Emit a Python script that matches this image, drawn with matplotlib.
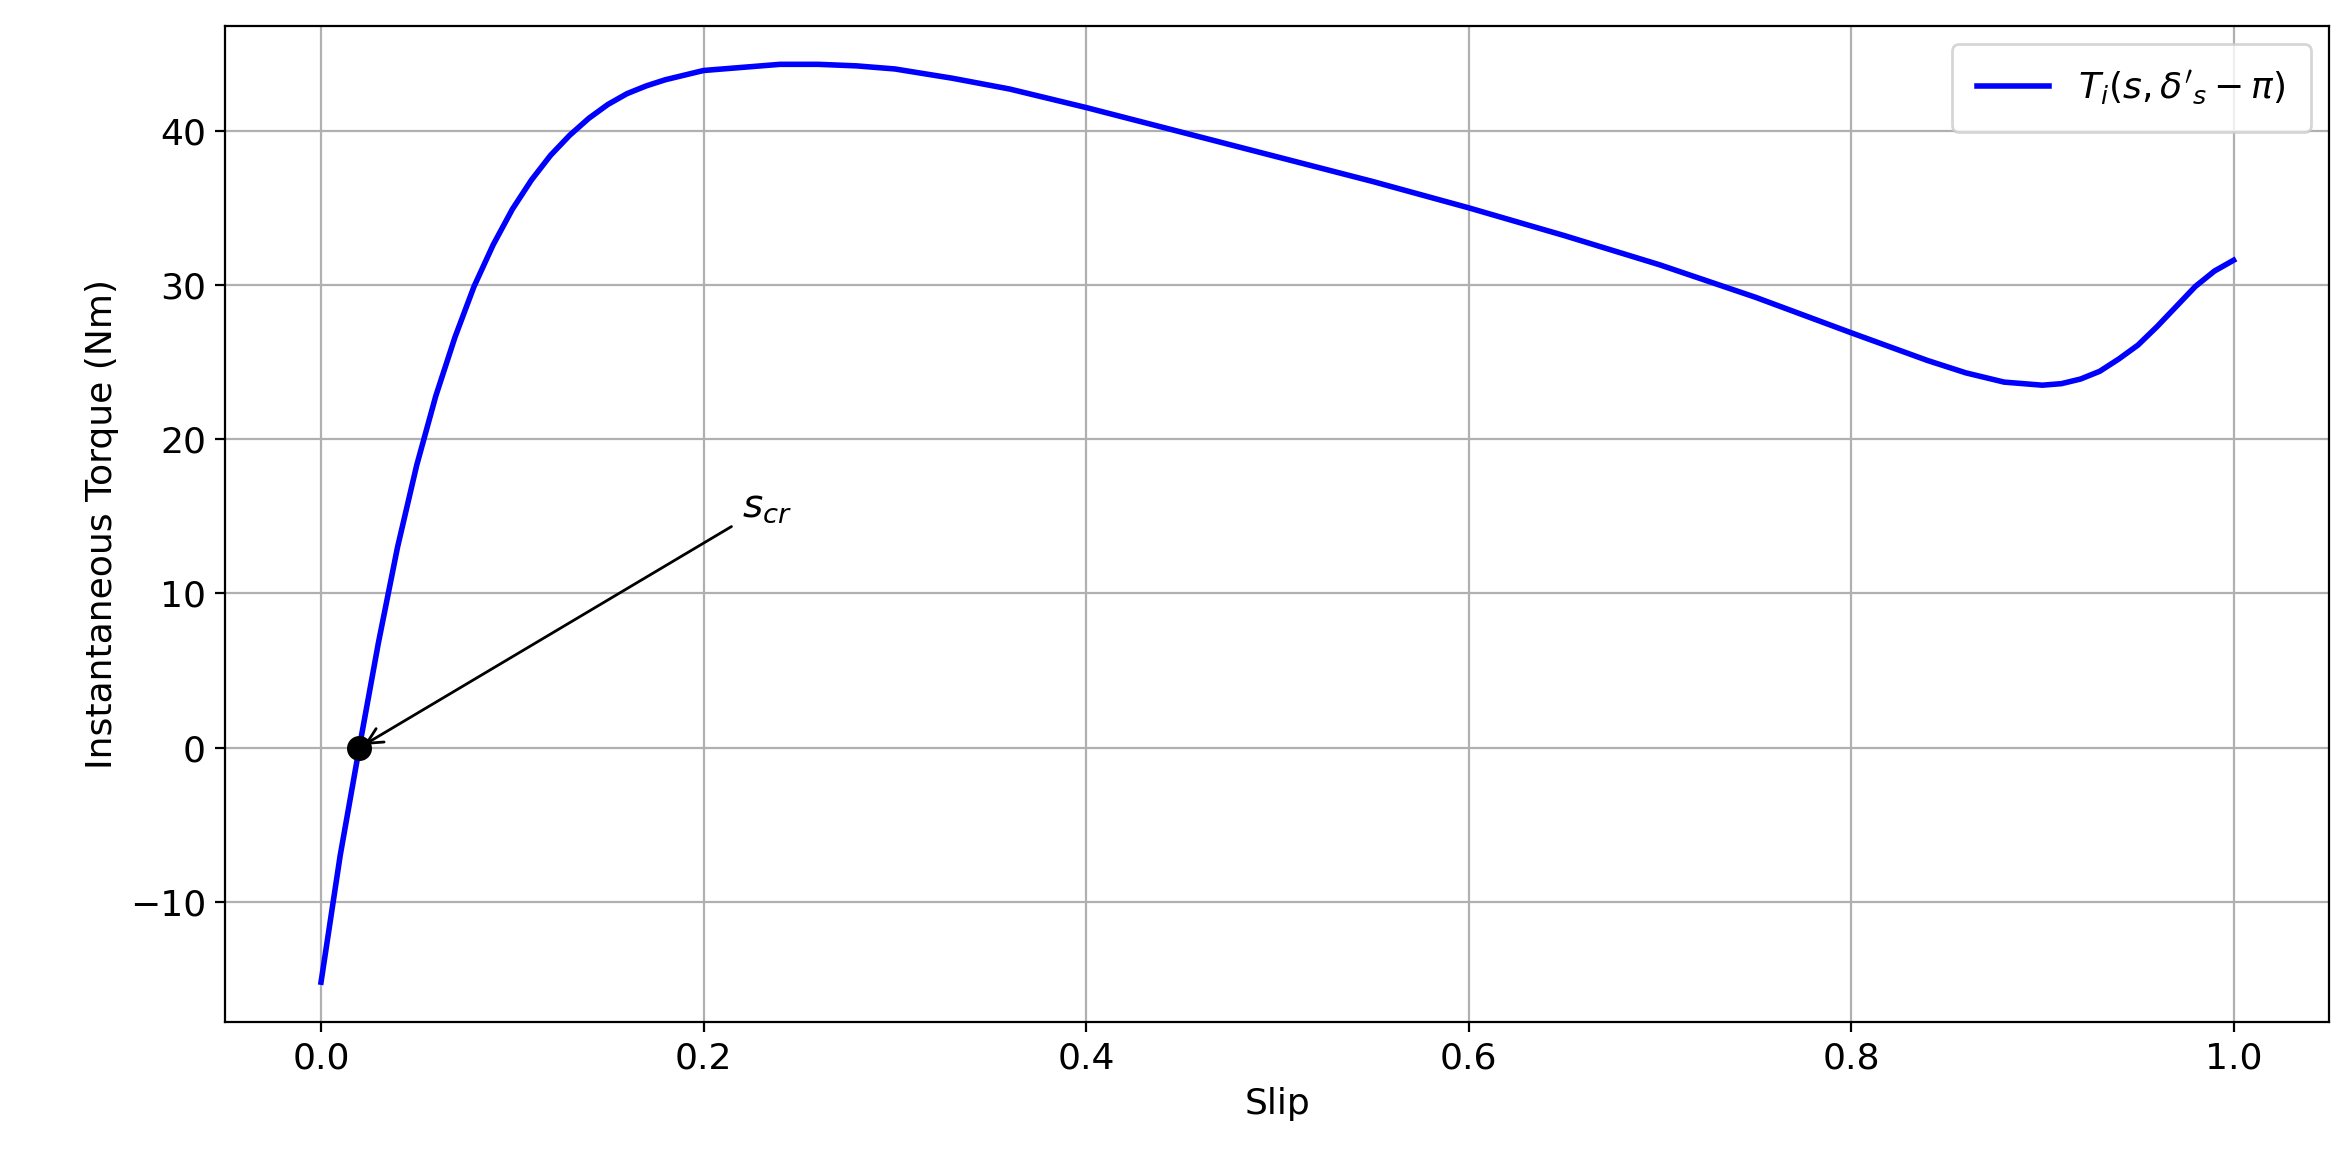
import matplotlib
matplotlib.use("Agg")
import matplotlib.pyplot as plt

slip = [0.0, 0.01, 0.02, 0.03, 0.04, 0.05, 0.06, 0.07, 0.08, 0.09, 0.10, 0.11, 0.12, 0.13, 0.14,
        0.15, 0.16, 0.17, 0.18, 0.19, 0.20, 0.22, 0.24, 0.26, 0.28, 0.30, 0.33, 0.36, 0.40,
        0.45, 0.50, 0.55, 0.60, 0.65, 0.70, 0.75, 0.80, 0.82, 0.84, 0.86, 0.88, 0.90, 0.91,
        0.92, 0.93, 0.94, 0.95, 0.96, 0.97, 0.98, 0.99, 1.0]
torque = [-15.2, -7.0, 0.0, 6.8, 13.0, 18.3, 22.8, 26.6, 29.9, 32.6, 34.9, 36.8, 38.4, 39.7, 40.8,
          41.7, 42.4, 42.9, 43.3, 43.6, 43.9, 44.1, 44.3, 44.3, 44.2, 44.0, 43.4, 42.7, 41.5,
          39.9, 38.3, 36.7, 35.0, 33.2, 31.3, 29.2, 26.9, 26.0, 25.1, 24.3, 23.7, 23.5, 23.6,
          23.9, 24.4, 25.2, 26.1, 27.3, 28.6, 29.9, 30.9, 31.6]
s_cr = 0.02
t_cr = 0.0

fig = plt.figure(figsize=(11.74, 5.855), dpi=200)
ax = fig.add_axes([0.096, 0.127, 0.896, 0.851])
ax.plot(slip, torque, color="blue", lw=2, label=r"$T_i(s,\delta'_s-\pi)$")
ax.plot([s_cr], [t_cr], "o", color="black", ms=8)
ax.annotate(r"$s_{cr}$", xy=(s_cr, t_cr), xytext=(0.22, 15), fontsize=14,
            arrowprops=dict(arrowstyle="->", color="black"))
ax.set_xlabel("Slip", fontsize=13)
ax.set_ylabel("Instantaneous Torque (Nm)", fontsize=13)
ax.set_xlim(-0.05, 1.05)
ax.set_ylim(-17.8, 46.8)
ax.tick_params(labelsize=13)
ax.grid(True)
ax.legend(loc="upper right", fontsize=13, borderpad=0.7)
fig.savefig("out.png", dpi=200)
